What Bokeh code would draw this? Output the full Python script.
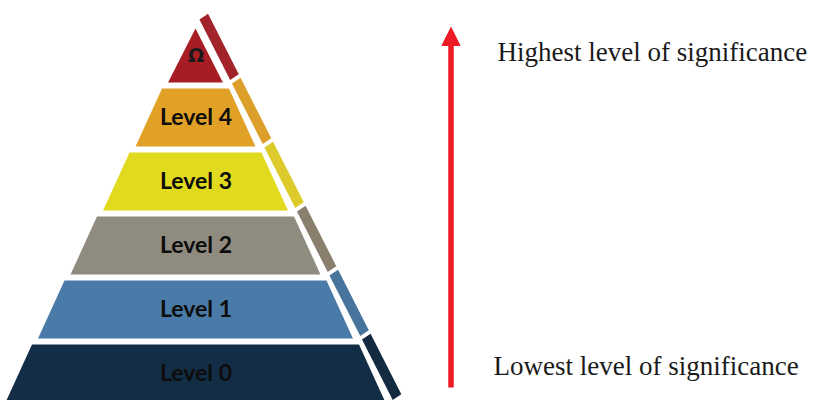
from bokeh.plotting import figure
from bokeh.models import Range1d, Arrow, NormalHead, ColumnDataSource
from bokeh.core.properties import value
from bokeh.embed import file_html
from bokeh.resources import INLINE

# ---- data -------------------------------------------------------------
levels = ["Level 0", "Level 1", "Level 2", "Level 3", "Level 4", "\u03a9"]
front_colors = ["#132D46", "#4A7BA8", "#8F8B7F", "#E2DA1E", "#E0A126", "#A81C23"]
side_colors = ["#132A40", "#46749A", "#8A7F6F", "#DCCB2A", "#DC9F2A", "#A2242A"]
scale_labels = ["Lowest level of significance", "Highest level of significance"]

# ---- layout (page pixels, y grows downward) ---------------------------
APEX_X, APEX_Y = 195.0, 28.0
SLOPE = 0.508
BASE_Y = 402.0
PITCH = 64.0
BAND_H = 58.0
TOP_EXTRA = 3.0
STRIP_OFF = 8.5
CUT = (8.6, -5.8)


def xl(y):
    return APEX_X - SLOPE * (y - APEX_Y)


def xr(y):
    return APEX_X + SLOPE * (y - APEX_Y)


fx, fy, sx, sy, lx, ly = [], [], [], [], [], []
for i, name in enumerate(levels):
    yb = BASE_Y - PITCH * i
    yt_raw = yb - BAND_H
    if yt_raw <= APEX_Y:
        fx.append([xl(yb), APEX_X, xr(yb)])
        fy.append([yb, APEX_Y, yb])
    else:
        fx.append([xl(yb), xl(yt_raw) - TOP_EXTRA, xr(yt_raw) + TOP_EXTRA, xr(yb)])
        fy.append([yb, yt_raw, yt_raw, yb])
    st, sb = yt_raw - 5.0, yb - 2.5
    ax_, bx_ = xr(st) + STRIP_OFF, xr(sb) + STRIP_OFF
    sx.append([ax_, bx_, bx_ + CUT[0], ax_ + CUT[0]])
    sy.append([st, sb, sb + CUT[1], st + CUT[1]])
    lx.append(APEX_X + 0.5)
    ly.append(yb - 31.0)

p = figure(width=828, height=400, x_range=Range1d(0, 828), y_range=Range1d(400, 0),
           output_backend="svg", toolbar_location=None, min_border=0,
           x_axis_location=None, y_axis_location=None)
p.grid.visible = False
p.outline_line_color = None
p.background_fill_color = "white"
p.border_fill_color = "white"

p.patches(xs=fx, ys=fy, fill_color=front_colors, line_color=None)
p.patches(xs=sx, ys=sy, fill_color=side_colors, line_color=None)

src_lvl = ColumnDataSource(dict(x=lx[:-1], y=ly[:-1], t=levels[:-1]))
p.text(x="x", y="y", text="t", source=src_lvl, text_font=value("Lato"),
       text_font_style="bold", text_font_size="23px", text_color="#0d0d0d",
       text_align="center", text_baseline="alphabetic")
src_top = ColumnDataSource(dict(x=lx[-1:], y=[ly[-1] + 3], t=levels[-1:]))
p.text(x="x", y="y", text="t", source=src_top, text_font=value("DejaVu Sans"),
       text_font_style="bold", text_font_size="19px", text_color="#1a1a1a",
       text_align="center", text_baseline="alphabetic")

# arrow
RED = "#ED1C24"
p.add_layout(Arrow(end=NormalHead(size=18, fill_color=RED, line_color=RED, line_width=1),
                   x_start=450.5, y_start=387, x_end=450.5, y_end=27,
                   line_color=RED, line_width=5.5))

src_scale = ColumnDataSource(dict(x=[493, 497], y=[365.5, 51.5], t=scale_labels))
p.text(x="x", y="y", text="t", source=src_scale, text_font=value("Liberation Serif"),
       text_font_size="27px", text_color="#1a1a1a",
       text_align="left", text_baseline="alphabetic")

open("out.html", "w").write(file_html(p, INLINE))
